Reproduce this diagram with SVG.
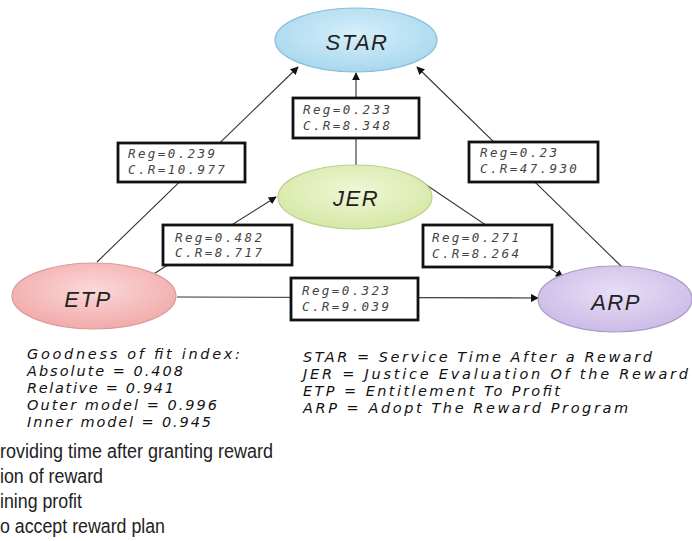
<svg xmlns="http://www.w3.org/2000/svg" width="692" height="541" viewBox="0 0 692 541">
<style>
.node-text{font-family:"Liberation Sans",Arial,sans-serif;font-style:italic;font-size:22px;fill:#222;text-anchor:middle;letter-spacing:1.5px}
.box{fill:#fff;stroke:#111;stroke-width:2.8}
.bt{font-family:"DejaVu Sans Mono","Liberation Mono",monospace;font-style:italic;font-size:12.5px;fill:#444;letter-spacing:2.4px}
.conn{stroke:#333;stroke-width:1.1;fill:none}
.leg{font-family:"DejaVu Sans","Liberation Sans",sans-serif;font-style:italic;font-size:14.5px;fill:#111}
.foot{font-family:"Liberation Sans",Arial,sans-serif;font-size:20px;fill:#222}
</style>
<defs>
<marker id="arr" viewBox="0 0 10 10" refX="9" refY="5" markerWidth="8" markerHeight="8" orient="auto" markerUnits="userSpaceOnUse">
<path d="M0,0 L10,5 L0,10 z" fill="#111"/>
</marker>
<radialGradient id="gStar" cx="50%" cy="40%" r="60%"><stop offset="0" stop-color="#d6effa"/><stop offset="1" stop-color="#a9d7ee"/></radialGradient>
<radialGradient id="gJer" cx="50%" cy="40%" r="60%"><stop offset="0" stop-color="#f0f6d6"/><stop offset="1" stop-color="#d6e8a6"/></radialGradient>
<radialGradient id="gEtp" cx="50%" cy="40%" r="60%"><stop offset="0" stop-color="#fbd8d8"/><stop offset="1" stop-color="#f2aaaa"/></radialGradient>
<radialGradient id="gArp" cx="50%" cy="40%" r="60%"><stop offset="0" stop-color="#e8def6"/><stop offset="1" stop-color="#cbbbe6"/></radialGradient>
</defs>
<g id="connectors">
<line class="conn" x1="97" y1="262" x2="298" y2="67" marker-end="url(#arr)"/>
<line class="conn" x1="152" y1="275" x2="276" y2="197" marker-end="url(#arr)"/>
<line class="conn" x1="356" y1="165" x2="356" y2="73" marker-end="url(#arr)"/>
<line class="conn" x1="622" y1="267" x2="417" y2="67" marker-end="url(#arr)"/>
<line class="conn" x1="419" y1="180" x2="563" y2="277" marker-end="url(#arr)"/>
<line class="conn" x1="177" y1="297" x2="538" y2="298" marker-end="url(#arr)"/>
</g>
<g id="node-star">
<ellipse cx="356" cy="40" rx="81" ry="32" fill="url(#gStar)" stroke="#86bedb" stroke-width="1.2"/>
<text class="node-text" x="357" y="50">STAR</text>
</g>
<g id="node-jer">
<ellipse cx="355" cy="197" rx="77" ry="32" fill="url(#gJer)" stroke="#bcd08c" stroke-width="1.2"/>
<text class="node-text" x="356" y="206">JER</text>
</g>
<g id="node-etp">
<ellipse cx="94" cy="296" rx="82" ry="33" fill="url(#gEtp)" stroke="#dc9a9a" stroke-width="1.2"/>
<text class="node-text" x="88" y="307">ETP</text>
</g>
<g id="node-arp">
<ellipse cx="615" cy="299" rx="77" ry="33" fill="url(#gArp)" stroke="#aa9acb" stroke-width="1.2"/>
<text class="node-text" x="616" y="310">ARP</text>
</g>
<g id="label-etp-star">
<rect class="box" x="118" y="143" width="127" height="39"/>
<text class="bt" x="128" y="158">Reg=0.239</text>
<text class="bt" x="128" y="174">C.R=10.977</text>
</g>
<g id="label-etp-jer">
<rect class="box" x="163" y="225" width="129" height="40"/>
<text class="bt" x="175" y="242">Reg=0.482</text>
<text class="bt" x="175" y="257">C.R=8.717</text>
</g>
<g id="label-jer-star">
<rect class="box" x="293" y="98" width="126" height="40"/>
<text class="bt" x="303" y="114">Reg=0.233</text>
<text class="bt" x="303" y="130">C.R=8.348</text>
</g>
<g id="label-arp-star">
<rect class="box" x="469" y="142" width="129" height="40"/>
<text class="bt" x="480" y="157">Reg=0.23</text>
<text class="bt" x="480" y="173">C.R=47.930</text>
</g>
<g id="label-jer-arp">
<rect class="box" x="423" y="225" width="129" height="42"/>
<text class="bt" x="432" y="242">Reg=0.271</text>
<text class="bt" x="432" y="258">C.R=8.264</text>
</g>
<g id="label-etp-arp">
<rect class="box" x="291" y="278" width="127" height="42"/>
<text class="bt" x="302" y="295">Reg=0.323</text>
<text class="bt" x="302" y="311">C.R=9.039</text>
</g>
<g id="fit-index">
<text class="leg" x="27" y="359" textLength="213">Goodness of fit index:</text>
<text class="leg" x="27" y="376" textLength="156">Absolute = 0.408</text>
<text class="leg" x="27" y="393" textLength="147">Relative = 0.941</text>
<text class="leg" x="27" y="410" textLength="190">Outer model = 0.996</text>
<text class="leg" x="27" y="427" textLength="184">Inner model = 0.945</text>
</g>
<g id="legend">
<text class="leg" x="303" y="362" textLength="349">STAR = Service Time After a Reward</text>
<text class="leg" x="303" y="379" textLength="385">JER = Justice Evaluation Of the Reward</text>
<text class="leg" x="303" y="396" textLength="257">ETP = Entitlement To Profit</text>
<text class="leg" x="303" y="413" textLength="325">ARP = Adopt The Reward Program</text>
</g>
<g id="footnotes">
<text class="foot" x="0" y="458" textLength="273" lengthAdjust="spacingAndGlyphs">roviding time after granting reward</text>
<text class="foot" x="0" y="483" textLength="103" lengthAdjust="spacingAndGlyphs">ion of reward</text>
<text class="foot" x="0" y="508" textLength="82" lengthAdjust="spacingAndGlyphs">ining profit</text>
<text class="foot" x="0" y="533" textLength="165" lengthAdjust="spacingAndGlyphs">o accept reward plan</text>
</g>
</svg>
